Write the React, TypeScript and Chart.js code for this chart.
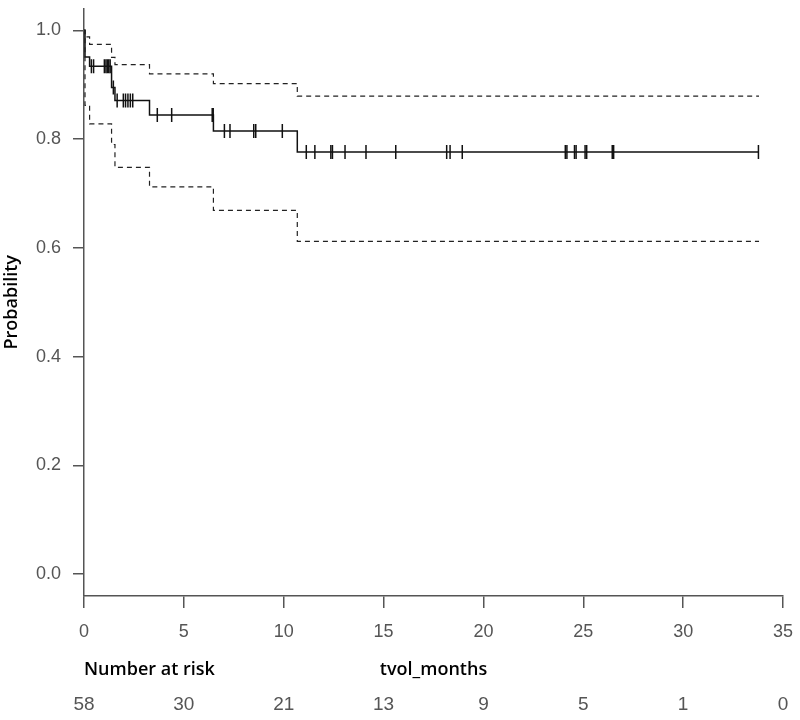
import React, { useEffect, useRef } from "react";
import { Chart, registerables } from "chart.js";

Chart.register(...registerables);

// Kaplan-Meier estimate (time in months, survival after the step)
const survTimes = [0, 0.05, 0.28, 1.38, 1.55, 3.28, 6.48, 10.68, 33.8];
const survValues = [1.0, 0.951, 0.934, 0.895, 0.871, 0.844, 0.815, 0.776, 0.776];

// Confidence bands
const upperValues = [1.0, 0.988, 0.974, 0.95, 0.937, 0.92, 0.902, 0.879, 0.879];
const lowerValues = [1.0, 0.862, 0.828, 0.79, 0.748, 0.712, 0.669, 0.612, 0.612];

// Censored observations (months)
const censorTimes = [
  0.37, 0.48, 1.02, 1.1, 1.17, 1.24, 1.31,
  1.47,
  1.66, 1.97, 2.08, 2.2, 2.32, 2.44,
  3.67, 4.39, 6.42, 6.47,
  7.03, 7.31, 8.5, 8.6, 9.93,
  11.13, 11.56, 12.36, 12.44, 13.07, 14.12, 15.61, 18.16, 18.33, 18.94,
  24.1, 24.18, 24.56, 24.64, 25.09, 25.17, 26.45, 26.52, 33.77,
];

// Number at risk table
const riskTimes = [0, 5, 10, 15, 20, 25, 30, 35];
const riskCounts = [58, 30, 21, 13, 9, 5, 1, 0];

const yTicks = [0, 0.2, 0.4, 0.6, 0.8, 1.0];

function levelAt(t: number): number {
  let v = survValues[0];
  for (let i = 0; i < survTimes.length; i++) {
    if (survTimes[i] <= t) v = survValues[i];
  }
  return v;
}

const riskTablePlugin = {
  id: "riskTable",
  afterDraw(chart: any) {
    const { ctx, chartArea } = chart;
    const xs = chart.scales.x;
    ctx.save();
    ctx.fillStyle = "#000";
    ctx.font = '600 18px "Open Sans"';
    ctx.textBaseline = "middle";
    ctx.textAlign = "left";
    ctx.fillText("Number at risk", chartArea.left, 670);
    ctx.textAlign = "center";
    ctx.fillText("tvol_months", (chartArea.left + chartArea.right) / 2, 670);
    ctx.fillStyle = "#555";
    ctx.font = '19px "Liberation Sans"';
    riskTimes.forEach((t, i) => {
      ctx.fillText(String(riskCounts[i]), xs.getPixelForValue(t), 705);
    });
    ctx.restore();
  },
};

function zeroPad(scale: any) {
  scale.paddingTop = 0;
  scale.paddingBottom = 0;
  scale.paddingLeft = 0;
  scale.paddingRight = 0;
}

export default function App() {
  const ref = useRef<HTMLCanvasElement | null>(null);

  useEffect(() => {
    if (!ref.current) return;
    const toPts = (vals: number[]) => survTimes.map((t, i) => ({ x: t, y: vals[i] }));
    const chart = new Chart(ref.current, {
      type: "line",
      data: {
        datasets: [
          {
            label: "upper",
            data: toPts(upperValues),
            stepped: "before",
            borderColor: "#222",
            borderWidth: 1.2,
            borderDash: [5, 4],
            pointRadius: 0,
            fill: false,
          },
          {
            label: "lower",
            data: toPts(lowerValues),
            stepped: "before",
            borderColor: "#222",
            borderWidth: 1.2,
            borderDash: [5, 4],
            pointRadius: 0,
            fill: false,
          },
          {
            label: "survival",
            data: toPts(survValues),
            stepped: "before",
            borderColor: "#111",
            borderWidth: 1.5,
            pointRadius: 0,
            fill: false,
          },
          {
            label: "censored",
            data: censorTimes.map((t) => ({ x: t, y: levelAt(t) })),
            showLine: false,
            pointStyle: "line",
            rotation: 90,
            pointRadius: 7,
            pointBorderWidth: 1.5,
            pointBorderColor: "#111",
            borderColor: "#111",
          } as any,
        ],
      },
      options: {
        animation: false,
        responsive: false,
        devicePixelRatio: 1,
        layout: { padding: { left: 0, right: 17, top: 3, bottom: 0 } },
        plugins: {
          legend: { display: false },
          tooltip: { enabled: false },
        },
        scales: {
          x: {
            type: "linear",
            min: 0,
            max: 35,
            ticks: {
              stepSize: 5,
              color: "#555",
              font: { family: '"Liberation Sans"', size: 18 },
              padding: 13,
              maxRotation: 0,
            },
            grid: {
              display: true,
              drawOnChartArea: false,
              drawTicks: true,
              tickLength: 12,
              color: "#555",
              lineWidth: 1.5,
            },
            border: { display: true, color: "#555", width: 1.5 },
            afterFit(scale: any) {
              scale.height = 124;
              zeroPad(scale);
            },
          },
          y: {
            type: "linear",
            min: -0.04,
            max: 1.04,
            afterBuildTicks(scale: any) {
              scale.ticks = yTicks.map((v) => ({ value: v }));
            },
            ticks: {
              color: "#555",
              font: { family: '"Liberation Sans"', size: 18 },
              padding: 12,
              callback: (v: any) => Number(v).toFixed(1),
            },
            grid: {
              display: true,
              drawOnChartArea: false,
              drawTicks: true,
              tickLength: 11,
              color: "#555",
              lineWidth: 1.5,
            },
            border: { display: true, color: "#555", width: 1.5 },
            title: {
              display: true,
              text: "Probability",
              color: "#000",
              font: { family: '"Open Sans"', size: 18, weight: "600" },
              padding: { top: 1, bottom: 0 },
            },
            afterFit(scale: any) {
              scale.width = 84;
              zeroPad(scale);
            },
          },
        },
      },
      plugins: [riskTablePlugin],
    });
    return () => chart.destroy();
  }, []);

  return (
    <div style={{ position: "fixed", left: 0, top: 0, width: 800, height: 720, background: "#fff" }}>
      <canvas ref={ref} width={800} height={720} style={{ width: 800, height: 720, display: "block" }} />
    </div>
  );
}
